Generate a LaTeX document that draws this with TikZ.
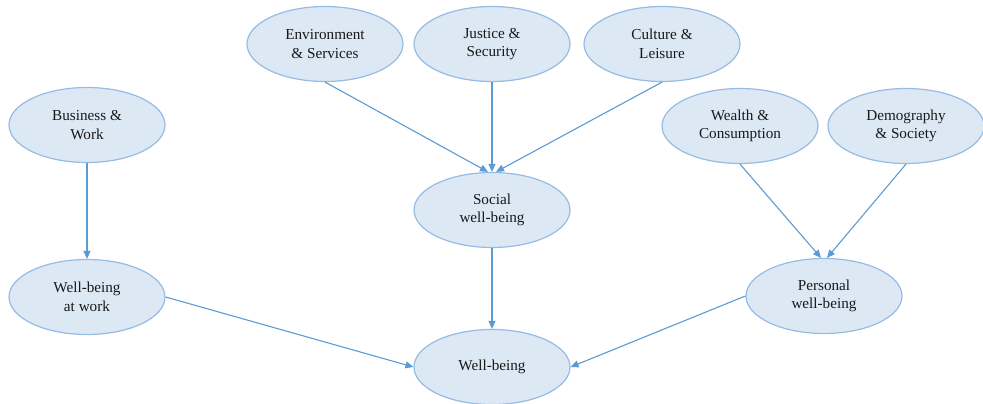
\documentclass[tikz,border=0pt]{standalone}
\usepackage{fontspec}
\setmainfont{Liberation Serif}
\usetikzlibrary{shapes.geometric,arrows.meta}
\definecolor{efill}{RGB}{221,232,245}
\definecolor{edraw}{RGB}{150,187,228}
\definecolor{arr}{RGB}{91,155,213}
\begin{document}
\begin{tikzpicture}[x=1pt,y=-1pt,
  ell/.style={ellipse, draw=edraw, fill=efill, line width=1.2pt,
    minimum width=156pt, minimum height=75pt, inner sep=0pt, align=center,
    font=\fontsize{15.2}{18.5}\selectfont, text=black!90},
  conn/.style={draw=arr, line width=1.1pt, -{Triangle[length=8pt,width=7pt]}}]
\useasboundingbox (0,0) rectangle (983,404);
\node[ell] (env) at (325,44) {Environment\\\& Services};
\node[ell] (jus) at (492,44) {Justice \&\\Security};
\node[ell] (cul) at (662,44) {Culture \&\\Leisure};
\node[ell] (bus) at (87,125) {Business \&\\Work};
\node[ell] (wea) at (740,126) {Wealth \&\\Consumption};
\node[ell] (dem) at (906,126) {Demography\\\& Society};
\node[ell] (soc) at (492,210) {Social\\well-being};
\node[ell] (wwk) at (87,297) {Well-being\\at work};
\node[ell] (per) at (824,296) {Personal\\well-being};
\node[ell] (wb) at (492,367) {Well-being};
\draw[conn] (env.south) -- ([xshift=-4pt]soc.north);
\draw[conn] (jus.south) -- (soc.north);
\draw[conn] (cul.south) -- ([xshift=4pt]soc.north);
\draw[conn] (bus.south) -- (wwk.north);
\draw[conn] (wea.south) -- ([xshift=-3pt]per.north);
\draw[conn] (dem.south) -- ([xshift=3pt]per.north);
\draw[conn] (soc.south) -- (wb.north);
\draw[conn] (wwk.east) -- (wb.west);
\draw[conn] (per.west) -- (wb.east);
\end{tikzpicture}
\end{document}
